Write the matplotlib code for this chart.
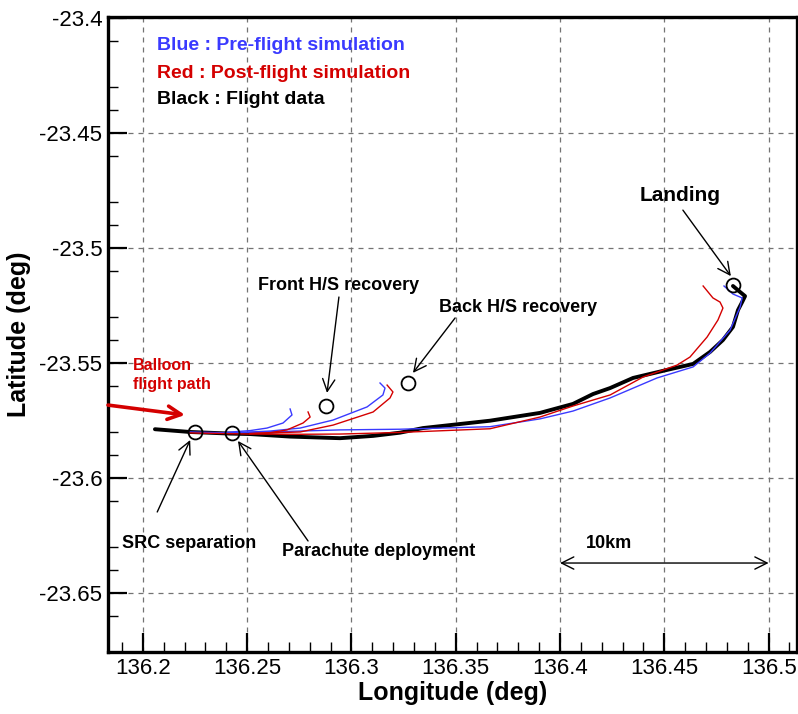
import matplotlib.pyplot as plt

plt.rcParams["font.family"] = ["Liberation Sans", "DejaVu Sans"]

# flight data (black)
flight_lon = [136.2058, 136.2226, 136.2418, 136.2514, 136.2706, 136.2945, 136.3104,
              136.3233, 136.3343, 136.3664, 136.3904, 136.4062, 136.4158, 136.4240,
              136.4350, 136.4513, 136.4638, 136.4719, 136.4781, 136.4829, 136.4853,
              136.4873, 136.4887, 136.4863, 136.4829]
flight_lat = [-23.5788, -23.5800, -23.5807, -23.5809, -23.5820, -23.5827, -23.5817,
              -23.5803, -23.5783, -23.5751, -23.5717, -23.5678, -23.5635, -23.5609,
              -23.5565, -23.5530, -23.5504, -23.5452, -23.5400, -23.5343, -23.5270,
              -23.5235, -23.5209, -23.5191, -23.5165]

# pre-flight simulation (blue)
pre_lon = [136.2226, 136.2418, 136.2754, 136.2945, 136.3233, 136.3664, 136.3904,
           136.4062, 136.4240, 136.4465, 136.4638, 136.4719, 136.4815, 136.4863,
           136.4873, 136.4829, 136.4786]
pre_lat = [-23.5800, -23.5804, -23.5796, -23.5791, -23.5788, -23.5777, -23.5743,
           -23.5709, -23.5652, -23.5565, -23.5517, -23.5457, -23.5357, -23.5257,
           -23.5217, -23.5200, -23.5165]
pre_front_lon = [136.2394, 136.2514, 136.2595, 136.2672, 136.2715, 136.2706]
pre_front_lat = [-23.5802, -23.5794, -23.5783, -23.5761, -23.5726, -23.5700]
pre_back_lon = [136.2466, 136.2610, 136.2754, 136.2912, 136.3075, 136.3151, 136.3161, 136.3137]
pre_back_lat = [-23.5802, -23.5796, -23.5783, -23.5748, -23.5691, -23.5639, -23.5609, -23.5587]

# post-flight simulation (red)
post_lon = [136.2226, 136.2514, 136.2754, 136.2945, 136.3233, 136.3664, 136.3904,
            136.4062, 136.4240, 136.4398, 136.4561, 136.4623, 136.4705, 136.4757,
            136.4781, 136.4767, 136.4733, 136.4686]
post_lat = [-23.5804, -23.5809, -23.5810, -23.5809, -23.5802, -23.5786, -23.5735,
            -23.5687, -23.5639, -23.5561, -23.5509, -23.5474, -23.5387, -23.5313,
            -23.5261, -23.5235, -23.5217, -23.5165]
post_front_lon = [136.2514, 136.2610, 136.2691, 136.2768, 136.2802, 136.2792]
post_front_lat = [-23.5807, -23.5803, -23.5791, -23.5761, -23.5735, -23.5713]
post_back_lon = [136.2514, 136.2610, 136.2754, 136.2912, 136.3104, 136.3185, 136.3199, 136.3171]
post_back_lat = [-23.5807, -23.5804, -23.5800, -23.5770, -23.5713, -23.5652, -23.5626, -23.5596]

# event markers: SRC separation, parachute, front H/S, back H/S, landing
event_lon = [136.2250, 136.2428, 136.2878, 136.3271, 136.4829]
event_lat = [-23.5800, -23.5804, -23.5687, -23.5587, -23.5161]

blue = "#3a3aff"
red = "#d40000"

fig = plt.figure(figsize=(7.98, 7.14), dpi=100)
ax = fig.add_axes([108 / 798, 62 / 714, 689 / 798, 635 / 714])

ax.plot(flight_lon, flight_lat, color="black", lw=2.8, zorder=3, solid_capstyle="round")
ax.plot(pre_lon, pre_lat, color=blue, lw=1.0, zorder=4)
ax.plot(pre_front_lon, pre_front_lat, color=blue, lw=1.0, zorder=4)
ax.plot(pre_back_lon, pre_back_lat, color=blue, lw=1.0, zorder=4)
ax.plot(post_lon, post_lat, color=red, lw=1.0, zorder=4)
ax.plot(post_front_lon, post_front_lat, color=red, lw=1.0, zorder=4)
ax.plot(post_back_lon, post_back_lat, color=red, lw=1.0, zorder=4)
ax.plot(event_lon, event_lat, "o", ms=10, mfc="none", mec="black", mew=1.3, zorder=5)

ax.set_xlim(136.1833, 136.5136)
ax.set_ylim(-23.6757, -23.3995)
ax.set_xticks([136.2, 136.25, 136.3, 136.35, 136.4, 136.45, 136.5])
ax.set_xticklabels(["136.2", "136.25", "136.3", "136.35", "136.4", "136.45", "136.5"])
ax.set_yticks([-23.65, -23.6, -23.55, -23.5, -23.45, -23.4])
ax.set_yticklabels(["-23.65", "-23.6", "-23.55", "-23.5", "-23.45", "-23.4"])
ax.set_xticks([136.19 + 0.01 * i for i in range(33) if i % 5 != 1], minor=True)
ax.set_yticks([-23.67 + 0.01 * i for i in range(28) if i % 5 != 0], minor=True)
ax.tick_params(which="major", direction="in", length=14, width=1.6, labelsize=16,
               top=False, right=False, pad=4)
ax.tick_params(which="minor", direction="in", length=7, width=1.0, top=False, right=False)
for s in ax.spines.values():
    s.set_linewidth(2.4)
ax.grid(True, which="major", color="0.45", linestyle=(0, (4, 4)), lw=0.9)

ax.set_xlabel("Longitude (deg)", fontsize=18, fontweight="bold", labelpad=2)
ax.set_ylabel("Latitude (deg)", fontsize=18, fontweight="bold", labelpad=6)

# colour key
ax.text(136.2068, -23.4117, "Blue : Pre-flight simulation", color=blue, fontsize=14,
        fontweight="bold", va="center")
ax.text(136.2068, -23.4239, "Red : Post-flight simulation", color=red, fontsize=14,
        fontweight="bold", va="center")
ax.text(136.2068, -23.4352, "Black : Flight data", color="black", fontsize=14,
        fontweight="bold", va="center")

arrow = dict(arrowstyle="->", color="black", lw=1.0, shrinkA=0, shrinkB=0,
             mutation_scale=22)
ax.text(136.4575, -23.4770, "Landing", fontsize=15, fontweight="bold", ha="center", va="center")
ax.annotate("", xy=(136.4819, -23.5122), xytext=(136.4589, -23.4835), arrowprops=arrow)
ax.text(136.2936, -23.5161, "Front H/S recovery", fontsize=13, fontweight="bold",
        ha="center", va="center")
ax.annotate("", xy=(136.2883, -23.5630), xytext=(136.2940, -23.5213), arrowprops=arrow)
ax.text(136.3799, -23.5257, "Back H/S recovery", fontsize=13, fontweight="bold",
        ha="center", va="center")
ax.annotate("", xy=(136.3295, -23.5543), xytext=(136.3497, -23.5304), arrowprops=arrow)
ax.text(136.2221, -23.6283, "SRC separation", fontsize=13, fontweight="bold",
        ha="center", va="center")
ax.annotate("", xy=(136.2227, -23.5835), xytext=(136.2069, -23.6148), arrowprops=arrow)
ax.text(136.3128, -23.6322, "Parachute deployment", fontsize=13, fontweight="bold",
        ha="center", va="center")
ax.annotate("", xy=(136.2456, -23.5839), xytext=(136.2792, -23.6274), arrowprops=arrow)

# 10 km scale bar
ax.text(136.4235, -23.6283, "10km", fontsize=13, fontweight="bold", ha="center", va="center")
ax.annotate("", xy=(136.5, -23.637), xytext=(136.4, -23.637),
            arrowprops=dict(arrowstyle="<->", color="black", lw=1.0, shrinkA=0, shrinkB=0,
                            mutation_scale=22))

# balloon flight direction
ax.text(136.1953, -23.5478, "Balloon\nflight path", color=red, fontsize=11.5,
        fontweight="bold", va="top", linespacing=1.3)
ax.annotate("", xy=(136.2202, -23.5726), xytext=(136.1833, -23.5683),
            arrowprops=dict(arrowstyle="->", color=red, lw=2.6, shrinkA=0, shrinkB=0,
                            mutation_scale=24))

fig.savefig("out.png", dpi=100)
